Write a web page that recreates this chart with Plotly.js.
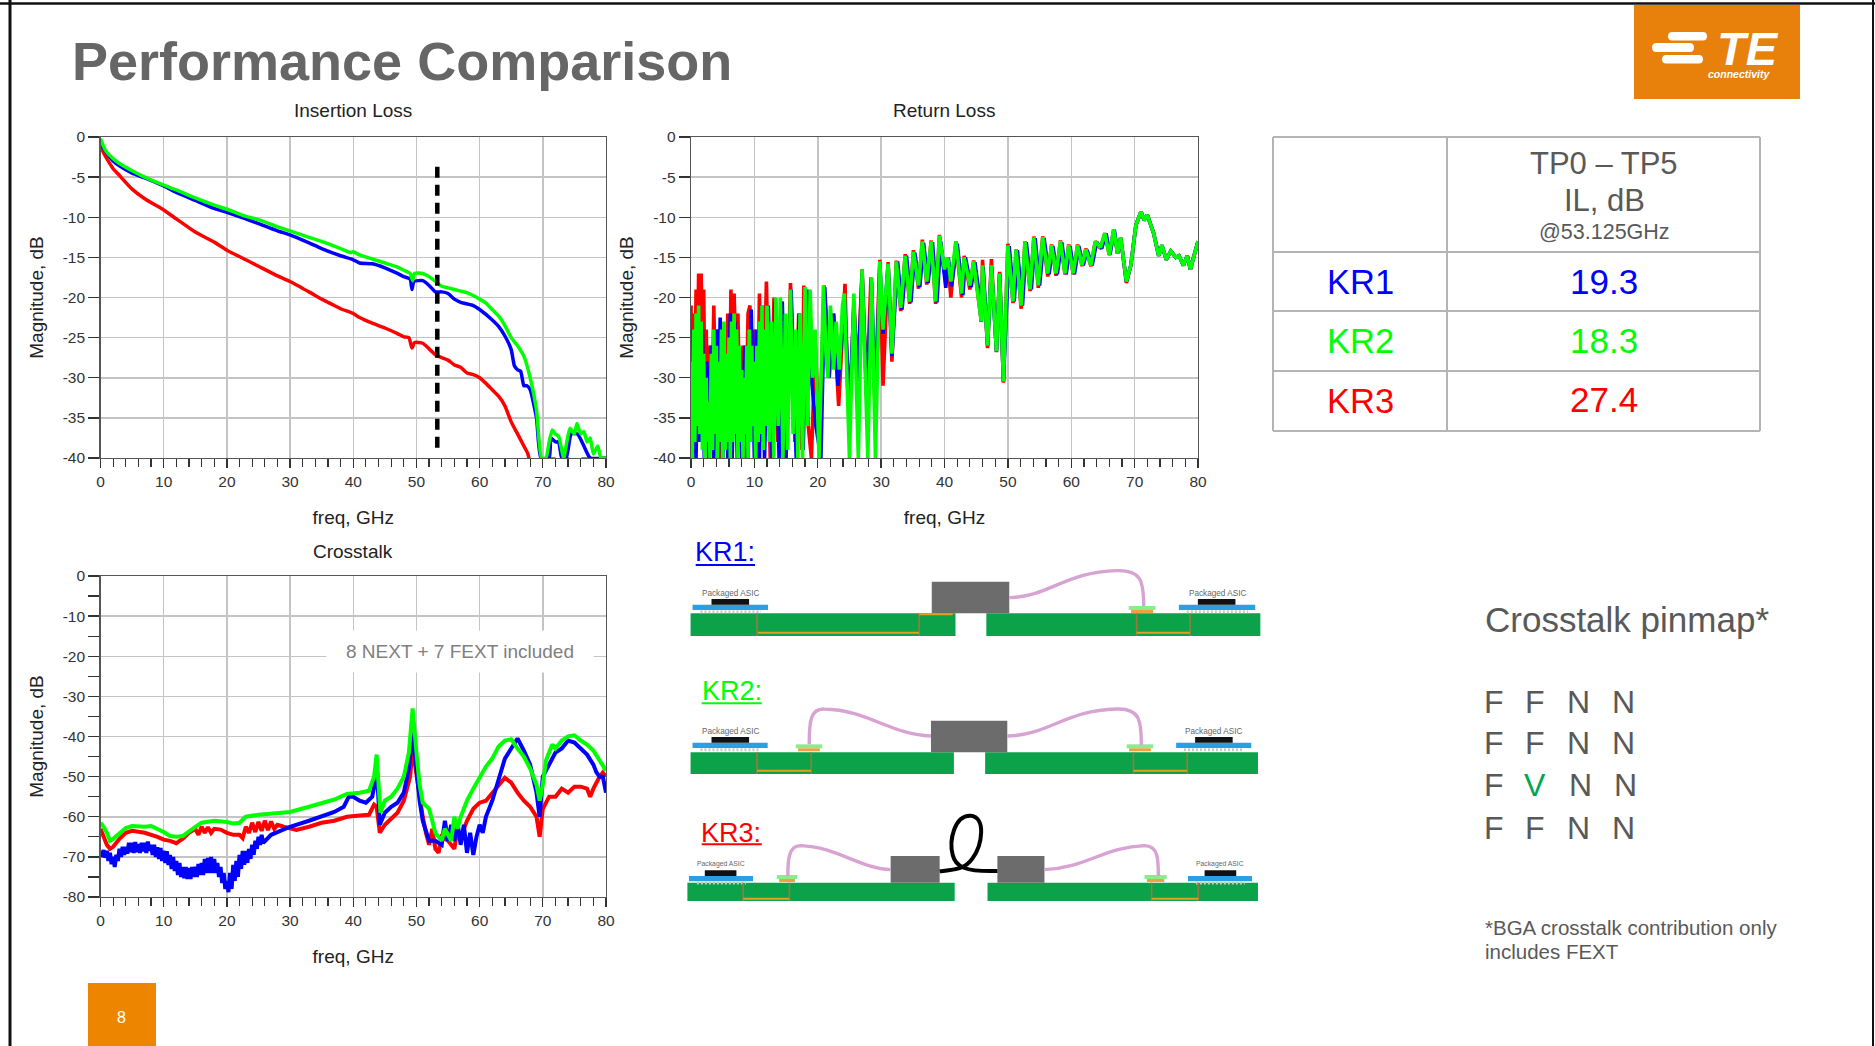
<!DOCTYPE html>
<html><head><meta charset="utf-8">
<script src="https://cdn.plot.ly/plotly-3.0.1.min.js"></script>
<style>html,body{margin:0;padding:0;background:#fff}#c{width:1875px;height:1046px}</style>
</head><body><div id="c"></div>
<script>
// ---------- Axis labels ----------
const freqTicks=[0,10,20,30,40,50,60,70,80];
const freqLabels=["0","10","20","30","40","50","60","70","80"];
const lossTicks=[0,-5,-10,-15,-20,-25,-30,-35,-40];
const lossLabels=["0","-5","-10","-15","-20","-25","-30","-35","-40"];
const xtTicks=[0,-10,-20,-30,-40,-50,-60,-70,-80];
const xtLabels=["0","-10","-20","-30","-40","-50","-60","-70","-80"];

// ---------- Insertion loss ----------
const ilGreenF=[0,0.5,1,2,3,5,7,10,12,15,18,20,23,25,28,30,33,35,37,38,39.5,40,41,43,45,47,48,49,49.4,49.7,51,52,53,54,55,57,58,60,61,62,63,64,65,66,67,68,69,69.8,70.5,71,71.5,72,72.5,73.3,73.8,74.3,75,75.4,76,76.5,77,77.5,78,78.7,79.2,80];
const ilGreenDb=[-0.2,-1.2,-1.9,-2.7,-3.3,-4.2,-5,-6,-6.6,-7.6,-8.5,-9,-9.9,-10.3,-11.2,-11.7,-12.5,-13,-13.6,-13.9,-14.4,-14.3,-14.7,-15.2,-15.7,-16.2,-16.6,-17,-17.9,-17,-17,-17.4,-18,-18.6,-18.8,-19.2,-19.4,-20.2,-20.7,-21.5,-22.3,-23.5,-25,-26,-27.3,-30,-34,-40,-40,-38,-36.5,-37,-37.3,-40,-38,-36.3,-37,-35.7,-37,-36.7,-38,-37.5,-39.5,-38.5,-40,-40];
const ilBlueF=[0,0.5,1,2,3,5,7,10,12,15,18,20,23,25,28,30,33,35,38,40,41,43,45,47,48,49,49.3,49.6,51,52,53,54,55,56,57,59,60,62,63,64,65,65.5,66,66.5,67,67.5,68,69,69.7,71,71.3,72,72.5,73,73.7,74.5,75.5,76.5,77.5,80];
const ilBlueDb=[-0.6,-1.4,-2,-3,-3.6,-4.5,-5.1,-6.1,-6.9,-7.9,-8.9,-9.4,-10.2,-10.8,-11.7,-12.2,-13.2,-13.9,-14.8,-15.3,-15.7,-15.8,-16.3,-17,-17.4,-17.7,-19,-18,-17.9,-18.5,-19.3,-19.3,-19.5,-20.2,-20.6,-21,-21.5,-22.8,-23.6,-24.8,-26.5,-28.5,-29,-29.2,-31,-31,-31.5,-35,-40,-40,-37.5,-38,-38,-40,-40,-37,-37,-38.5,-40,-40];
const ilRedF=[0,0.5,1,2,3,5,7,10,12,15,18,20,23,25,28,30,33,35,36,37,38,40,41,43,45,47,48,48.8,49.3,49.7,51,52,53.125,54,55,56,57,58,59,60,61,62,63,64,65,66,67,67.6,68.1];
const ilRedDb=[-1.1,-2,-2.7,-3.95,-4.8,-6.5,-7.7,-9.1,-10.2,-11.85,-13.1,-14.1,-15.3,-16.1,-17.3,-18,-19.3,-20.2,-20.6,-21,-21.4,-22,-22.5,-23.2,-23.8,-24.5,-24.9,-25,-26.3,-25.6,-25.7,-26.4,-27.2,-27.5,-27.8,-28.4,-28.7,-29.4,-29.6,-30,-30.7,-31.5,-32.3,-33.5,-35.5,-37,-38.5,-39.4,-41];
const ilRedTailF=[71,72,null,73.4,74.2,null,76.1,77.5];
const ilRedTailDb=[-40.1,-40.1,null,-40.1,-40.1,null,-40.1,-40.1];
const markerF=[53.3,53.3];
const markerDb=[-3.7,-39.5];

// ---------- Return loss: below 30 GHz ----------
const rlRedLowF=[0,0.2,0.4,0.6,0.8,1,1.2,1.4,1.6,1.8,2,2.2,2.4,2.7,3,3.3,3.6,3.9,4.2,4.6,5,5.4,5.8,6.1,6.3,6.5,6.8,7.1,7.4,7.8,8.2,8.6,9,9.3,9.7,10,10.4,10.8,11.3,11.9,12.5,13.1,13.7,14.3,14.9,15.7,16.4,17,17.5,17.8,18.5,19,19.6,20.3,21,21.6,22,22.5,23.3,24.3,24.7,25.1,25.7,26.3,27,27.7,28.4,29];
const rlRedLowDb=[-21,-35,-22,-33,-19,-30,-17,-28,-17,-26,-19,-32,-24,-38,-26,-35,-21,-35,-24,-40,-25,-38,-22,-32,-19,-30,-19.5,-28,-22,-38,-26,-40,-22,-21,-37,-24,-40,-19.5,-38,-18,-40,-20,-38,-20.5,-40,-18.2,-38,-22,-39,-18.5,-36,-40,-26,-38,-18.5,-26,-28,-22,-33.5,-18.3,-31,-34,-20.5,-30,-16.5,-32,-17.5,-33];
const rlBlueLowF=[0,0.2,0.5,0.8,1.1,1.4,1.8,2.1,2.5,2.8,3.2,3.6,4,4.3,4.6,5,5.4,5.8,6.2,6.5,6.9,7.3,7.7,8,8.5,9,9.5,10,10.3,10.8,11.2,11.6,12.2,12.8,13.3,13.9,14.4,15,15.8,16.6,17.1,17.7,18.3,19,19.7,20.5,21.1,21.8,22.5,23.2,24.2,25,25.7,26.3,27,27.8,28.5,29.1];
const rlBlueLowDb=[-24,-40,-25,-40,-23,-38,-24,-40,-28,-40,-26,-40,-24,-40,-22.5,-40,-28,-40,-22,-40,-23,-40,-29,-40,-26,-40,-21.5,-40,-24,-40,-21,-40,-21,-40,-20.5,-40,-20.5,-40,-19,-40,-22,-39,-19,-30,-36,-40,-18.7,-30,-22,-31,-20,-34,-21,-31,-17,-34,-18,-35];
const rlGreenLowF=[0,0.2,0.4,0.6,0.8,1,1.2,1.4,1.6,1.8,2,2.2,2.4,2.6,2.8,3,3.2,3.4,3.6,3.8,4,4.2,4.4,4.6,4.8,5,5.2,5.4,5.6,5.8,6,6.2,6.4,6.6,6.8,7,7.2,7.4,7.6,7.8,8,8.2,8.4,8.6,8.8,9,9.2,9.4,9.6,9.8,10,10.2,10.4,10.6,10.8,11,11.2,11.4,11.6,11.8,12,12.35,12.7,13.05,13.4,13.75,14.1,14.5,14.9,15.25,15.7,16.1,16.5,16.85,17.2,17.6,18,18.4,18.8,19.2,19.6,20.2,20.9,21.3,21.6,22,22.5,22.9,23.4,23.9,24.2,24.6,25,25.7,26.4,27,27.9,28.5,29.1];
const rlGreenLowDb=[-28,-40,-24,-38,-22,-36,-21,-37,-23,-39,-27,-40,-30,-38,-33,-40,-27,-39,-24,-37,-26,-40,-28,-38,-24,-40,-23,-39,-27,-38,-25,-40,-23,-38,-22,-37,-24,-40,-26,-38,-29,-40,-30,-37,-26,-40,-24,-38,-26,-36,-28,-40,-26,-38,-23,-37,-21,-39,-24,-36,-21,-38,-23,-40,-20,-36,-20,-40,-22,-39,-19,-37,-24,-40,-22,-40,-18.7,-36,-19,-30,-24,-40,-18.5,-27,-30,-21,-29,-23,-29,-21,-19.5,-30,-40,-19.5,-40,-16.5,-40,-17.5,-40];
// ---------- Return loss: from 30 GHz ----------
const rlHighF=[29.8,30.3,31.1,31.7,32.4,33.1,33.8,34.5,35.1,35.9,36.5,37.2,37.9,38.6,39.2,40,40.5,41,41.8,42.7,43.1,44,44.6,45.2,45.8,46,46.8,47.4,48.2,48.7,49.3,50,50.8,51.3,52.1,52.7,53.5,54.1,54.8,55.5,56.3,56.9,57.6,58.3,59,59.6,60.3,61,61.7,62.3,63.1,63.8,64.6,65.3,66,66.7,67.3,67.8,68.7,69.4,70.2,71,71.5,72,73,73.8,74.3,75,75.7,76.5,77,77.7,78.3,78.8,79.4,80];
const rlBlueHighF=[29.8,30.3,31.1,31.7,32.6,33.3,34,34.7,35.3,36.1,36.7,37.4,38.1,38.8,39.4,40.2,40.6,41.1,42,42.9,43.3,44.2,44.8,45.4,45.8,46.1,46.8,47.4,48.2,48.7,49.3,50.2,51,51.5,52.3,52.9,53.7,54.3,55,55.7,56.5,57.1,57.8,58.5,59.2,59.8,60.5,61.2,61.9,62.5,63.3,64,64.8,65.5,66.1,66.8,67.3,67.8,68.7,69.4,70.2,71,71.5,72,73,73.8,74.3,75,75.7,76.5,77,77.7,78.3,78.8,79.4,80];
const rlGreenHighDb=[-15.5,-24,-15.8,-27,-15.5,-21.3,-14.8,-20.5,-14.3,-18.5,-13,-18,-13,-20.5,-12.3,-16.5,-15,-18,-13,-19.5,-15,-18.5,-15.5,-19,-23,-16,-26,-16,-26.7,-17,-30.5,-13.5,-20.5,-14,-21,-13,-19,-12.5,-18.5,-12.5,-17,-13.5,-17,-13,-17,-13.5,-17,-13.5,-16,-14,-16,-13,-13.8,-12,-14.7,-11.5,-14.5,-12.5,-18,-16,-11,-9.3,-10.4,-9.7,-12,-14.8,-13.5,-15.3,-14.2,-15,-14.8,-16,-14.8,-16.5,-14.7,-13];
const rlBlueHighDb=[-15.6,-24.5,-15.9,-27.3,-15.5,-21.5,-14.8,-20.6,-14.4,-18.7,-13.2,-18.2,-13.1,-20.6,-13,-18.8,-15,-18.6,-13.3,-19.7,-15,-18.7,-15.6,-19.2,-23,-16.2,-26,-16.2,-26.7,-17,-30.5,-13.6,-20.5,-14.1,-21,-13.1,-19,-12.6,-18.5,-12.6,-17.1,-13.6,-17.1,-13.1,-17.1,-13.6,-17.1,-13.6,-16,-14.1,-16,-13.1,-13.9,-12,-14.7,-11.6,-14.5,-12.6,-18,-16,-11,-9.3,-10.4,-9.7,-12,-14.8,-13.5,-15.3,-14.2,-15,-14.8,-16,-14.8,-16.5,-14.7,-13];
const rlRedHighDb=[-15.3,-31,-15.6,-28,-15.4,-21.7,-14.6,-20.8,-14.1,-18.9,-12.8,-18.4,-12.9,-20.8,-12.2,-17,-15,-20,-13,-20,-14.8,-19,-15.4,-19.4,-23,-15.3,-26.3,-15.2,-26.8,-16.8,-30.6,-13.3,-20.7,-14,-21.4,-13,-19.2,-12.4,-18.8,-12.4,-17.4,-13.4,-17.3,-12.9,-17.1,-13.4,-17.1,-13.4,-16.1,-13.9,-16.1,-13,-13.9,-12,-14.7,-11.5,-14.5,-12.5,-18.2,-16,-11,-9.3,-10.4,-9.7,-12,-14.8,-13.5,-15.3,-14.2,-15,-14.8,-16,-14.8,-16.5,-14.7,-13];

// ---------- Crosstalk ----------
const xtRedF=[0,0.5,1,1.5,2,3,4,5,7,9,10,11,12,12.5,13,14,15,15.5,16,16.5,17,17.5,18,19,20,21,22,22.5,23,23.5,24,24.5,25,25.5,26,26.5,27,27.5,28,29,31,33,35,37,39,41,42.5,43.3,43.7,44.2,45,46,47,48,49,49.4,50,51,51.5,52,52.5,53,53.5,54,55,56,56.5,57,57.5,58,59,60,61,62,63,64,65,66,67,68,69,69.5,70,71,72,73,74,75,76,77,77.5,78,79,79.5,80];
const xtRedDb=[-63,-65,-67,-68,-67.5,-65.5,-64,-63.5,-64,-65,-65.7,-66,-66.6,-66,-65.5,-64,-63,-64.5,-62.5,-64,-62.6,-64,-63,-63.2,-64,-64.5,-64.5,-65.3,-62.5,-64,-61.5,-63.8,-61.3,-63.5,-61,-63.3,-61.2,-63,-62,-62.5,-63.3,-62.5,-61.5,-61,-60,-59.7,-59.5,-57,-57.5,-64,-62,-60.5,-59,-56,-50,-43,-50,-60,-64,-67,-63,-68,-69,-65,-66,-68,-63,-66,-63,-61,-58,-56.5,-56,-54,-52,-50.3,-51.5,-54,-56,-57.5,-60,-65,-58,-55,-55,-53,-54,-52.5,-52.5,-53,-55,-53,-50,-49,-50];
const xtBlueF=[0,0.25,0.5,0.75,1,1.25,1.5,1.75,2,2.25,2.5,2.75,3,3.25,3.5,3.75,4,4.25,4.5,4.75,5,5.25,5.5,5.75,6,6.25,6.5,6.75,7,7.25,7.5,7.75,8,8.25,8.5,8.75,9,9.25,9.5,9.75,10,10.25,10.5,10.75,11,11.25,11.5,11.75,12,12.25,12.5,12.75,13,13.25,13.5,13.75,14,14.25,14.5,14.75,15,15.25,15.5,15.75,16,16.25,16.5,16.75,17,17.25,17.5,17.75,18,18.25,18.5,18.75,19,19.25,19.5,19.75,20,20.25,20.5,20.75,21,21.25,21.5,21.75,22,22.25,22.5,22.75,23,23.25,23.5,23.75,24,24.25,24.5,24.75,25,25.25,25.5,25.75,27,28,29,30,33,35,37,38.5,39.3,40,41,42,43,43.5,43.8,44.2,45,46,47,48,48.8,49.4,50,50.5,51,52,53,54,54.5,55,55.5,56,56.5,57,57.5,58,58.5,59,59.5,60,60.5,61,62,63,64,65,66,67,68,69,69.5,70,71,72,73,74,75,76,77,78,78.5,79,79.5,80];
const xtBlueDb=[-68.5,-70,-68.3,-70.2,-68.5,-71,-69,-71.8,-70,-72.5,-69.5,-71,-68,-70,-67.5,-69.5,-67.5,-69.2,-66.5,-68.8,-66.5,-69,-66.3,-68.8,-66.8,-69,-66.5,-68.6,-66.5,-69,-66.2,-68.5,-67,-69.5,-67,-70,-67.6,-70.5,-67.8,-71,-68.5,-71.5,-68.6,-72,-69.5,-73,-70,-73.5,-71,-74.5,-71.5,-75,-72.5,-75.3,-72.5,-75.5,-72.8,-75.5,-72.5,-75,-72.5,-75,-71.8,-74.5,-71.5,-74.5,-70.5,-74,-70.3,-74,-70,-74,-70.5,-74,-71.5,-75,-72.5,-76.5,-74,-78,-76,-78.8,-74,-78,-72,-76,-71,-75,-69.5,-73,-68.5,-72,-68.5,-71.5,-68,-70.5,-67,-69.5,-66,-68,-65,-67,-64.5,-66.5,-64.5,-63.8,-63,-62.5,-61,-60,-58.8,-57.5,-55,-55,-56,-56.5,-55,-51,-50,-62,-59,-57.5,-56.5,-54,-48,-39,-49,-56,-61,-66,-66,-67,-61,-66,-62,-66,-61.5,-67,-62,-69,-64,-69.5,-65,-62,-64,-60,-56,-51,-45.5,-43,-40.5,-43.5,-47,-54,-60,-50,-47,-44,-43,-41,-41.5,-43,-44.5,-47,-49,-50,-50,-54];
const xtGreenF=[0,0.5,1,1.5,2,3,4,5,7,8,9,10,11,12,13,14,15,16,18,20,21,22,23,25,27,30,33,35,37,39,41,42.5,43.3,43.7,44,44.3,45,46,47,48,48.8,49.4,50,50.5,51,52,53,54,54.5,55,55.5,56,56.5,57,58,59,60,61,62,63,64,65,66,67,68,69,69.5,70,70.5,71,71.5,72,73,74,75,76,77,78,79,80];
const xtGreenDb=[-61.5,-62.5,-64,-66,-65.5,-64,-62.8,-62.3,-62.5,-62.3,-63,-63.8,-64.8,-65,-64.8,-63.5,-62.5,-61.5,-61,-61.3,-61.7,-61.5,-60,-59.5,-59.3,-58.8,-57.5,-56.5,-55.7,-54.3,-54,-53.5,-50,-44.5,-52,-59,-56,-55,-53,-50,-44,-33,-44,-52,-56.5,-58,-64,-66,-63,-64.5,-66,-60,-63,-60,-56,-53,-50,-47.5,-45.5,-42.5,-41,-40.7,-43,-45,-48,-52,-56,-52,-46,-44,-42,-43,-41,-40,-39.7,-41,-42,-43.5,-46,-48.5];

// ---------- Table and text ----------
const tableRows=["KR1","KR2","KR3"];
const tableValues=["19.3","18.3","27.4"];
const tableColors=["#0000ff","#00ff00","#ff0000"];
const pinRows=[["F","F","N","N"],["F","F","N","N"],["F","V","N","N"],["F","F","N","N"]];

const W=1875,H=1046;
const px=v=>v/W, py=v=>1-v/H;
const FONT='"Liberation Sans", Arial, sans-serif';
const BLUE='#0000ff',GREEN='#00ff00',RED='#ff0000';
const T=(x,y,c,w,ax,extra)=>({x:x,y:y,mode:'lines',type:'scatter',line:Object.assign({color:c,width:w},extra||{}),hoverinfo:'skip',showlegend:false,xaxis:'x'+ax,yaxis:'y'+ax});
const SM={shape:'spline',smoothing:0.5};

const data=[
 T(ilRedF,ilRedDb,RED,3.5,'',SM),T(ilRedTailF,ilRedTailDb,RED,3,''),T(ilBlueF,ilBlueDb,BLUE,3.5,'',SM),T(ilGreenF,ilGreenDb,GREEN,3.5,'',SM),
 T(markerF,markerDb,'#000000',4.5,'',{dash:'11px,7px'}),
 T(rlRedLowF.concat(rlHighF),rlRedLowDb.concat(rlRedHighDb),RED,3.6,'2'),
 T(rlBlueLowF.concat(rlBlueHighF),rlBlueLowDb.concat(rlBlueHighDb),BLUE,3.6,'2'),
 T(rlGreenLowF.concat(rlHighF),rlGreenLowDb.concat(rlGreenHighDb),GREEN,3.6,'2'),
 T(xtRedF,xtRedDb,RED,4,'3'),T(xtBlueF,xtBlueDb,BLUE,4,'3'),T(xtGreenF,xtGreenDb,GREEN,4,'3')
];

const GRID='#c4c4c4',TF={family:FONT,size:15.5,color:'#333'},AF={family:FONT,size:19,color:'#222'};
function xAxis(l,r,anchor){return {domain:[px(l),px(r)],range:[0,80],anchor:anchor,tickmode:'array',tickvals:freqTicks,ticktext:freqLabels,ticks:'outside',ticklen:9,tickwidth:1.3,tickcolor:'#333',
 minor:{dtick:2,ticks:'outside',ticklen:8,tickcolor:'#333',tickwidth:1.2,showgrid:false},
 showgrid:true,gridcolor:GRID,gridwidth:1.5,zeroline:false,showline:true,mirror:true,linecolor:'#555',linewidth:1.3,
 tickfont:TF,title:{text:'freq, GHz',font:AF,standoff:21},fixedrange:true};}
function yAxis(t,b,anchor,lo,vals,labels,minorD){const a={domain:[py(b),py(t)],range:[lo,0],anchor:anchor,tickmode:'array',tickvals:vals,ticktext:labels,ticks:'outside',ticklen:11,tickwidth:1.3,tickcolor:'#333',
 showgrid:true,gridcolor:GRID,gridwidth:1.5,zeroline:false,showline:true,mirror:true,linecolor:'#555',linewidth:1.3,
 tickfont:TF,title:{text:'Magnitude, dB',font:AF,standoff:14},fixedrange:true};
 if(minorD)a.minor={dtick:minorD,ticks:'outside',ticklen:11,tickcolor:'#333',tickwidth:1.2,showgrid:false};return a;}

const shapes=[],ann=[];
const rect=(x0,y0,x1,y1,c)=>shapes.push({type:'rect',xref:'paper',yref:'paper',x0:px(x0),x1:px(x1),y0:py(y1),y1:py(y0),fillcolor:c,line:{width:0}});
const seg=(x0,y0,x1,y1,c,w,dash)=>shapes.push({type:'line',xref:'paper',yref:'paper',x0:px(x0),x1:px(x1),y0:py(y0),y1:py(y1),line:{color:c,width:w,dash:dash||'solid'}});
const txt=(t,x,y,size,c,opt)=>ann.push(Object.assign({text:t,xref:'paper',yref:'paper',x:px(x),y:py(y),xanchor:'center',yanchor:'middle',showarrow:false,font:{family:FONT,size:size,color:c}},opt||{}));
const P=(x,y)=>px(x)+','+py(y);
function bar(a,b,t,d,c){const r=d/2,m=t+r;shapes.push({type:'path',xref:'paper',yref:'paper',fillcolor:c,line:{width:0},
 path:`M ${P(a+r,t)} L ${P(b-r,t)} Q ${P(b,t)} ${P(b,m)} Q ${P(b,t+d)} ${P(b-r,t+d)} L ${P(a+r,t+d)} Q ${P(a,t+d)} ${P(a,m)} Q ${P(a,t)} ${P(a+r,t)} Z`});}

// page frame
seg(10,0,10,H,'#111',3); seg(0,3.5,W,3.5,'#111',2.5); seg(1873,0,1873,H,'#111',2);
// page number and logo
rect(88,983,156,H,'#EE8500'); txt('8',122,1017,16,'#ffffff',{});
rect(1634,5,1800,99,'#E8800C');
bar(1668,1707,32,8.5,'#fff');bar(1652,1694,43,9,'#fff');bar(1662,1703,55,8.5,'#fff');
txt('<b><i>TE</i></b>',1748,48,47,'#ffffff',{});
txt('<b><i>connectivity</i></b>',1739,74,10.5,'#ffffff',{});
// page title
txt('<b>Performance Comparison</b>',70,61,54,'#666666',{xanchor:'left'});
// subplot titles
txt('Insertion Loss',353,111,19,'#222');txt('Return Loss',944,111,19,'#222');txt('Crosstalk',353,551,19,'#222');
// note inside the crosstalk plot
txt('8 NEXT + 7 FEXT included',460,651,19,'#808080',{bgcolor:'#ffffff',borderpad:10,width:246});

// table
const tc='#b4b4b4';
[137,252,311,371,431].forEach(y=>seg(1273,y,1760,y,tc,2));
[1273,1447,1760].forEach(x=>seg(x,137,x,431,tc,2));
txt('TP0 – TP5',1604,164,31,'#595959');txt('IL, dB',1604,201,31,'#595959');txt('@53.125GHz',1604,232,21.5,'#595959');
[282,341,401].forEach((y,i)=>{txt(tableRows[i],1360,y,34.5,tableColors[i]);txt(tableValues[i],1604,y-1,35,tableColors[i]);});

// pinmap
txt('Crosstalk pinmap*',1483,619,35,'#595959',{xanchor:'left'});
const pinX=[1494,1535,1578,1623],pinY=[702,743,785,828];
pinRows.forEach((r,i)=>r.forEach((p,j)=>txt(p,pinX[j]+(i==2&&j>1?2:0),pinY[i],32,p=='V'?'#00A650':'#595959')));
txt('*BGA crosstalk contribution only',1483,927,20.5,'#595959',{xanchor:'left'});
txt('includes FEXT',1483,951,20.5,'#595959',{xanchor:'left'});

// cross-section diagrams (coordinates in a local 2.529:3 grid)
const dx=v=>670+v/2.529,dy=v=>530+v/3;
const PCB='#0BA24A',CON='#6c6c6c',PKG='#2B9FE3',ORG='#E0A020',VIA='#9A7A3A',CAB='#D8A2D2';
const r2=(a,b,c,d,col)=>rect(dx(a),dy(b),dx(c),dy(d),col);
const s2=(a,b,c,d,col,w,ds)=>seg(dx(a),dy(b),dx(c),dy(d),col,w,ds);
function curve(pts,col,w){let p='';pts.forEach(q=>{p+=(typeof q==='string'?q:px(dx(q[0]))+','+py(dy(q[1])))+' ';});
 shapes.push({type:'path',xref:'paper',yref:'paper',path:p,line:{color:col,width:w},fillcolor:'rgba(0,0,0,0)'});}
function pkg(a,b,top,dieA,dieB,label,size){r2(a,top+17,b,top+33,PKG);r2(dieA,top,dieB,top+17,'#111');s2(a+20,top+38,b-18,top+38,'#c9c9c9',3,'2px,2px');
 txt(label,dx((a+b)/2),dy(top-18),size,'#666');}
function via(x,t,b){s2(x,t,x,b,VIA,1.6);}
function pad(a,b,t){r2(a,t,b,t+12,'#8CEB8C');r2(a+6,t+12,b-6,t+21,'#F0A040');}
// KR1
txt('KR1:',725,552,27,BLUE);s2(65,105,215,105,BLUE,2);
r2(52,250,722,318,PCB);r2(800,250,1493,318,PCB);r2(662,155,858,250,CON);
pkg(57,248,207,105,200,'Packaged ASIC',8.2);pkg(1287,1480,207,1335,1430,'Packaged ASIC',8.2);
via(220,250,318);via(630,250,318);s2(222,308,630,308,ORG,2);s2(630,253,715,253,ORG,2);
via(1180,250,318);via(1315,250,318);s2(1180,308,1315,308,ORG,2);pad(1160,1228,228);
curve(['M',[858,203],'C',[960,200],[1000,125],[1130,122],'C',[1190,120],[1198,150],[1198,228]],CAB,3.4);
// KR2
txt('KR2:',732,691,27,GREEN);s2(80,520,232,520,GREEN,2);
r2(52,667,718,732,PCB);r2(797,667,1487,732,PCB);r2(660,572,853,667,CON);
pkg(57,247,621,105,200,'Packaged ASIC',8.2);pkg(1280,1470,621,1328,1423,'Packaged ASIC',8.2);
via(220,667,732);via(357,667,732);s2(220,722,357,722,ORG,2);pad(318,385,643);
via(1172,667,732);via(1308,667,732);s2(1172,722,1308,722,ORG,2);pad(1155,1222,643);
curve(['M',[660,618],'C',[560,615],[500,540],[390,537],'C',[355,535],[352,575],[352,643]],CAB,3.4);
curve(['M',[853,618],'C',[960,615],[1000,540],[1130,537],'C',[1190,535],[1192,575],[1192,645]],CAB,3.4);
// KR3
txt('KR3:',731,833,27,RED);s2(80,943,232,943,RED,2);
r2(44,1058,720,1113,PCB);r2(803,1058,1487,1113,PCB);r2(558,978,682,1058,CON);r2(828,978,947,1058,CON);
pkg(48,210,1021,88,168,'Packaged ASIC',6.8);pkg(1310,1472,1021,1352,1432,'Packaged ASIC',6.8);
via(185,1058,1113);via(302,1058,1113);s2(185,1106,302,1106,ORG,2);pad(270,322,1035);
via(1218,1058,1113);via(1336,1058,1113);s2(1218,1106,1336,1106,ORG,2);pad(1200,1256,1035);
curve(['M',[558,1019],'C',[480,1015],[420,950],[330,947],'C',[300,947],[298,990],[298,1037]],CAB,3.4);
curve(['M',[947,1019],'C',[1050,1015],[1100,950],[1200,947],'C',[1235,947],[1235,990],[1235,1037]],CAB,3.4);
curve(['M',[682,1024],'C',[715,1020],[745,1020],[765,985],'C',[790,945],[800,860],[760,857],'C',[720,855],[705,930],[715,975],'C',[722,1010],[745,1026],[828,1023]],'#000000',4);

const layout={width:W,height:H,margin:{l:0,r:0,t:0,b:0},paper_bgcolor:'#ffffff',plot_bgcolor:'#ffffff',showlegend:false,
 xaxis:xAxis(100.5,606,'y'),yaxis:yAxis(137,458,'x',-40,lossTicks,lossLabels),
 xaxis2:xAxis(691,1198,'y2'),yaxis2:yAxis(137,458,'x2',-40,lossTicks,lossLabels),
 xaxis3:xAxis(100.5,606,'y3'),yaxis3:yAxis(576,897,'x3',-80,xtTicks,xtLabels,5),
 shapes:shapes,annotations:ann};
Plotly.newPlot('c',data,layout,{displayModeBar:false,staticPlot:true});
</script></body></html>
